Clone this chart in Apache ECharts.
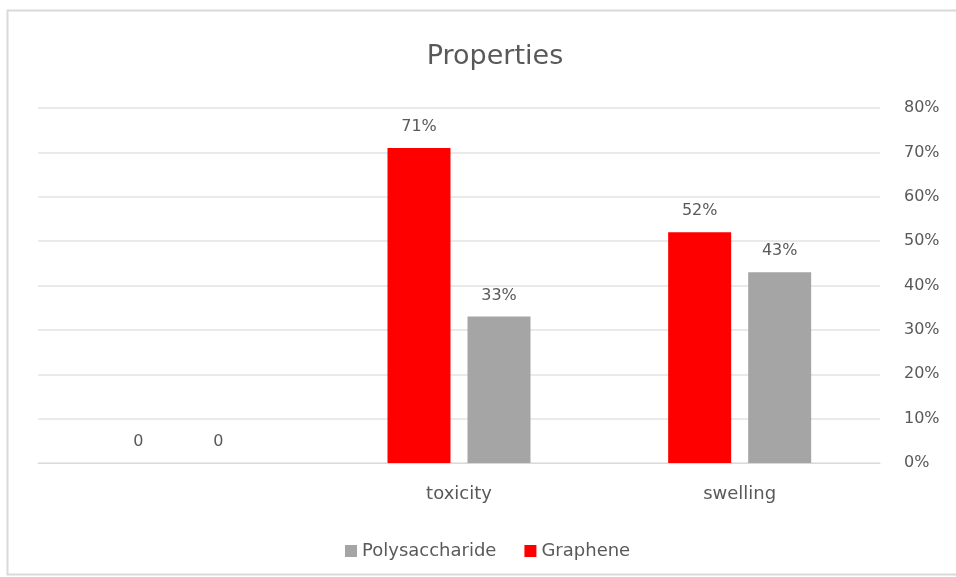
<!DOCTYPE html>
<html>
<head>
<meta charset="utf-8">
<script src="https://cdn.jsdelivr.net/npm/echarts@6/dist/echarts.min.js"></script>
<style>
  html, body { margin: 0; padding: 0; background: #fff; }
  #chart { width: 956px; height: 577px; }
</style>
</head>
<body>
<div id="chart"></div>
<script>
// Categories and series values (percent)
const categories = ['', 'toxicity', 'swelling'];
const grapheneValues = [0, 71, 52];
const polysaccharideValues = [0, 33, 43];
const yTicks = { min: 0, max: 80, step: 10 };

const textColor = '#595959';
const fontFamily = '"DejaVu Sans", "Liberation Sans", sans-serif';

function labelText(p) {
  return p.value === 0 ? '0' : p.value + '%';
}

const chart = echarts.init(document.getElementById('chart'), null, { renderer: 'canvas' });

chart.setOption({
  animation: false,
  backgroundColor: '#ffffff',
  textStyle: { fontFamily: fontFamily },
  graphic: [{
    type: 'rect',
    shape: { x: 7.5, y: 10.5, width: 960, height: 564 },
    style: { fill: 'none', stroke: '#d9d9d9', lineWidth: 2 },
    silent: true
  }],
  title: {
    text: 'Properties',
    left: 490,
    textAlign: 'center',
    top: 38,
    textStyle: { fontSize: 27, fontWeight: 'normal', color: textColor, fontFamily: fontFamily }
  },
  legend: {
    data: ['Polysaccharide', 'Graphene'],
    left: 340,
    top: 537,
    itemWidth: 12,
    itemHeight: 12,
    itemGap: 28,
    icon: 'rect',
    textStyle: { fontSize: 18, color: textColor, fontFamily: fontFamily }
  },
  grid: { left: 38, right: 76, top: 108, bottom: 114, containLabel: false },
  xAxis: {
    type: 'category',
    data: categories,
    axisLine: { show: true, lineStyle: { color: '#d9d9d9', width: 1 } },
    axisTick: { show: false },
    axisLabel: { color: textColor, fontSize: 18, margin: 22, fontFamily: fontFamily }
  },
  yAxis: {
    type: 'value',
    position: 'right',
    min: yTicks.min,
    max: yTicks.max,
    interval: yTicks.step,
    axisLine: { show: false },
    axisTick: { show: false },
    axisLabel: { formatter: '{value}%', color: textColor, fontSize: 16, margin: 24, fontFamily: fontFamily },
    splitLine: { lineStyle: { color: '#e3e3e3', width: 1.5 } }
  },
  series: [
    {
      name: 'Graphene',
      type: 'bar',
      data: grapheneValues,
      barWidth: 63,
      barGap: '27%',
      itemStyle: { color: '#ff0000' },
      label: { show: true, position: 'top', distance: 13, color: textColor, fontSize: 16, formatter: labelText, fontFamily: fontFamily }
    },
    {
      name: 'Polysaccharide',
      type: 'bar',
      data: polysaccharideValues,
      barWidth: 63,
      barGap: '27%',
      itemStyle: { color: '#a5a5a5' },
      label: { show: true, position: 'top', distance: 13, color: textColor, fontSize: 16, formatter: labelText, fontFamily: fontFamily }
    }
  ]
});
</script>
</body>
</html>
